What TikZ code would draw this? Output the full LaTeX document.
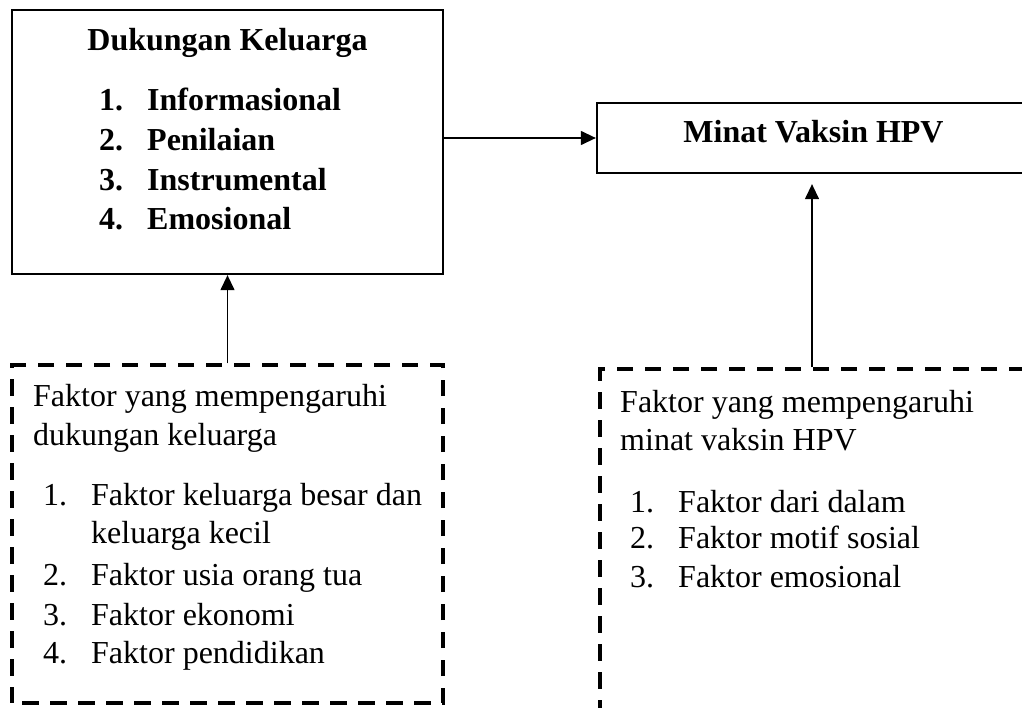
\documentclass[tikz,border=0pt]{standalone}
\usepackage{fontspec}
\setmainfont{Liberation Serif}
\usetikzlibrary{arrows.meta}
\begin{document}
\begin{tikzpicture}[x=1pt,y=-1pt,
  solidbox/.style={draw,line width=2.3pt,rectangle,inner sep=0pt},
  dashbox/.style={draw,line width=3.4pt,dash pattern=on 16.5pt off 11.5pt,dash phase=-10pt,rectangle,inner sep=0pt},
  conn/.style={line width=1.3pt,-{Triangle[length=15pt,width=14pt]}},
  txt/.style={anchor=base west,inner sep=0pt,font=\fontsize{32}{39}\selectfont},
  btxt/.style={anchor=base west,inner sep=0pt,font=\fontsize{32}{39}\selectfont\bfseries}]
\useasboundingbox (0,0) rectangle (1022,708);
% boxes
\node[solidbox,minimum width=431pt,minimum height=264pt] (box1) at (227.5,142) {};
\node[solidbox,minimum width=430pt,minimum height=70pt] (box2) at (812,138) {};
\node[dashbox,minimum width=431pt,minimum height=338pt] (dash1) at (227.5,534) {};
\node[dashbox,minimum width=424pt,minimum height=343pt] (dash2) at (812,540.5) {};
% connectors
\draw[conn] (box2.west -| box1.east) -- (box2.west);
\draw[conn] (dash1.north) -- (box1.south);
\draw[conn,shorten >=10pt] (dash2.north) -- (box2.south);
% box1 text
\node[btxt,anchor=base] (t1) at (227.5,51) {Dukungan Keluarga};
\node[btxt] (n11) at (99,111) {1.};
\node[btxt] (i11) at (147,111) {Informasional};
\node[btxt] (n12) at (99,151) {2.};
\node[btxt] (i12) at (147,151) {Penilaian};
\node[btxt] (n13) at (99,191) {3.};
\node[btxt] (i13) at (147,191) {Instrumental};
\node[btxt] (n14) at (99,230) {4.};
\node[btxt] (i14) at (147,230) {Emosional};
% box2 text
\node[btxt,anchor=base] (t2) at (813.5,143) {Minat Vaksin HPV};
% dashed box1 text
\node[txt] (h1a) at (33,406) {Faktor yang mempengaruhi};
\node[txt] (h1b) at (33,445) {dukungan keluarga};
\node[txt] (n21) at (43,505) {1.};
\node[txt] (i21) at (91,505) {Faktor keluarga besar dan};
\node[txt] (i21b) at (91,543) {keluarga kecil};
\node[txt] (n22) at (43,585) {2.};
\node[txt] (i22) at (91,585) {Faktor usia orang tua};
\node[txt] (n23) at (43,625) {3.};
\node[txt] (i23) at (91,625) {Faktor ekonomi};
\node[txt] (n24) at (43,663) {4.};
\node[txt] (i24) at (91,663) {Faktor pendidikan};
% dashed box2 text
\node[txt] (h2a) at (620,412) {Faktor yang mempengaruhi};
\node[txt] (h2b) at (620,450) {minat vaksin HPV};
\node[txt] (n31) at (630,512) {1.};
\node[txt] (i31) at (678,512) {Faktor dari dalam};
\node[txt] (n32) at (630,548) {2.};
\node[txt] (i32) at (678,548) {Faktor motif sosial};
\node[txt] (n33) at (630,587) {3.};
\node[txt] (i33) at (678,587) {Faktor emosional};
\end{tikzpicture}
\end{document}
